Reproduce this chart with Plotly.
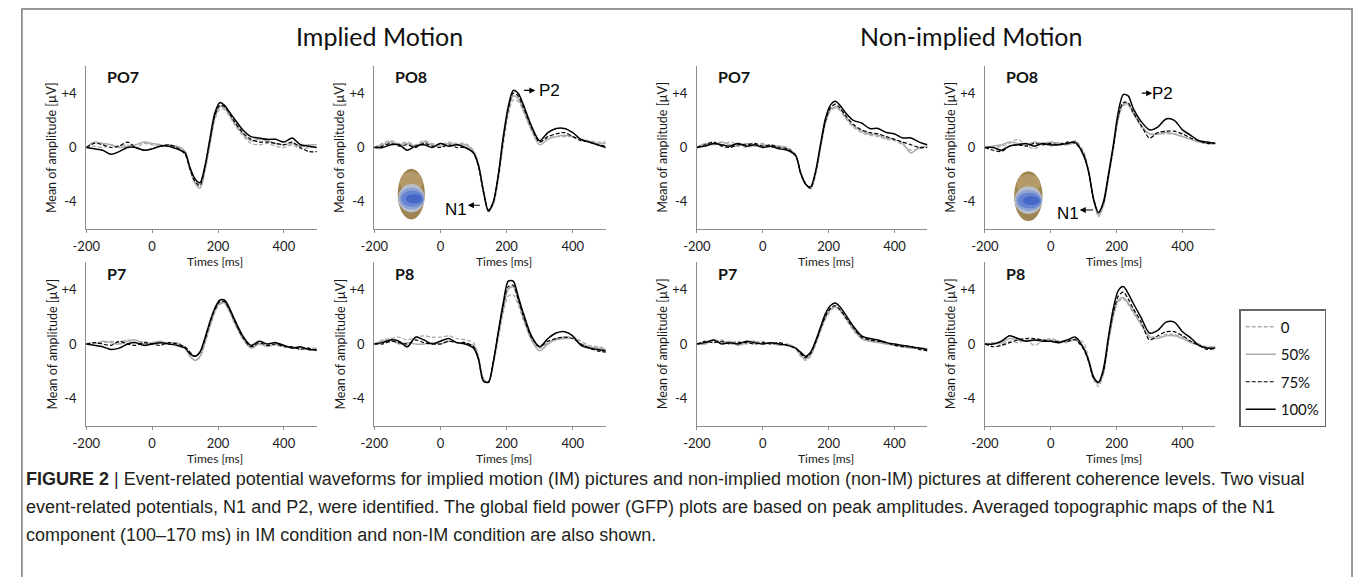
import plotly.graph_objects as go

W, H = 1354, 577

# ---------------- data ----------------
times = [-200, -175, -150, -125, -100, -75, -50, -25, 0, 25, 50, 75, 100,
         115, 130, 145, 160, 175, 190, 205, 220, 235, 250,
         275, 300, 325, 350, 375, 400, 425, 450, 475, 500]
conditions = ["0", "50%", "75%", "100%"]
x_tickvals = [-200, 0, 200, 400]
x_ticktext = ["-200", "0", "200", "400"]
y_tickvals = [4, 0, -4]
y_ticktext = ["+4", "0", "-4"]
column_titles = ["Implied Motion", "Non-implied Motion"]

# Implied motion, PO7
im_po7_0 = [0.0, 0.1, 0.0, 0.2, 0.1, 0.2, 0.0, 0.3, 0.2, 0.1, 0.2, 0.1, -0.3,
            -1.6, -2.6, -3.0, -1.8, 0.1, 2.0, 2.8, 2.8, 2.3, 1.7,
            0.9, 0.3, 0.2, 0.3, 0.1, 0.0, 0.2, -0.1, 0.0, 0.1]
im_po7_50 = [0.0, 0.4, 0.3, 0.2, 0.0, 0.1, 0.2, 0.4, 0.3, 0.2, 0.1, 0.1, -0.3,
             -1.6, -2.6, -3.0, -1.7, 0.3, 2.2, 3.0, 2.9, 2.4, 1.8,
             1.0, 0.5, 0.6, 0.5, 0.3, 0.2, 0.3, 0.1, 0.2, 0.2]
im_po7_75 = [0.0, 0.3, 0.2, 0.0, 0.1, 0.4, 0.0, -0.2, -0.1, 0.1, 0.2, 0.0, -0.5,
             -1.6, -2.5, -2.8, -1.5, 0.4, 2.3, 3.1, 3.0, 2.5, 1.9,
             1.1, 0.6, 0.4, 0.4, 0.3, 0.2, 0.4, 0.0, -0.3, -0.3]
im_po7_100 = [0.0, -0.1, -0.2, -0.5, -0.3, 0.0, 0.0, -0.2, -0.1, 0.1, 0.1, -0.1, -0.4,
              -1.5, -2.3, -2.6, -1.4, 0.6, 2.5, 3.3, 3.1, 2.6, 2.1,
              1.3, 0.8, 0.7, 0.6, 0.6, 0.4, 0.7, 0.2, 0.1, 0.0]

# Implied motion, PO8
im_po8_0 = [0.0, 0.3, 0.5, 0.3, 0.4, 0.2, 0.5, 0.3, 0.2, 0.4, 0.3, 0.3, -0.2,
            -1.2, -3.1, -4.7, -4.2, -2.4, 0.2, 2.4, 3.5, 3.4, 2.7,
            1.3, 0.4, 0.7, 0.8, 0.8, 0.8, 0.6, 0.5, 0.4, 0.4]
im_po8_50 = [0.0, 0.2, 0.4, 0.2, 0.3, 0.1, 0.4, 0.2, 0.1, 0.3, 0.2, 0.2, -0.3,
             -1.3, -3.2, -4.6, -4.1, -2.2, 0.5, 2.7, 3.8, 3.6, 2.8,
             1.3, 0.2, 0.6, 0.8, 0.9, 0.8, 0.6, 0.4, 0.3, 0.3]
im_po8_75 = [0.0, 0.1, 0.3, 0.1, 0.2, 0.0, 0.3, 0.1, 0.0, 0.2, 0.0, 0.0, -0.4,
             -1.4, -3.3, -4.6, -4.0, -2.1, 0.6, 2.8, 4.0, 3.8, 3.0,
             1.5, 0.4, 0.8, 1.0, 1.1, 0.8, 0.5, 0.4, 0.2, 0.1]
im_po8_100 = [0.0, 0.0, 0.2, 0.2, -0.2, 0.1, 0.2, 0.0, 0.3, 0.1, 0.2, 0.0, -0.4,
              -1.3, -3.2, -4.7, -4.0, -2.0, 0.8, 3.0, 4.2, 4.0, 3.2,
              1.6, 0.5, 1.1, 1.4, 1.4, 1.1, 0.6, 0.4, 0.2, 0.0]

# Non-implied motion, PO7
nim_po7_0 = [0.0, 0.1, 0.3, 0.2, 0.4, 0.2, 0.0, 0.2, 0.3, 0.0, 0.1, 0.0, -0.5,
             -1.8, -2.6, -3.1, -2.0, -0.1, 1.7, 2.7, 2.9, 2.7, 2.2,
             1.5, 1.1, 0.9, 0.8, 0.6, 0.5, 0.2, -0.2, -0.1, 0.1]
nim_po7_50 = [0.0, 0.3, 0.2, 0.4, 0.2, 0.1, 0.3, 0.1, 0.2, 0.1, 0.1, -0.1, -0.6,
              -1.8, -2.7, -3.0, -2.0, 0.0, 1.8, 2.8, 3.0, 2.8, 2.3,
              1.6, 1.2, 1.0, 0.9, 0.7, 0.6, 0.3, -0.4, 0.0, 0.1]
nim_po7_75 = [0.0, 0.2, 0.4, 0.1, 0.0, 0.2, 0.2, 0.3, 0.1, 0.2, 0.0, -0.1, -0.6,
              -1.9, -2.7, -3.0, -1.9, 0.1, 1.9, 2.9, 3.2, 2.9, 2.4,
              1.7, 1.3, 1.1, 1.0, 0.8, 0.6, 0.4, 0.2, 0.0, 0.0]
nim_po7_100 = [0.0, 0.1, 0.3, 0.2, 0.1, 0.3, 0.1, 0.2, 0.0, 0.1, -0.1, -0.2, -0.6,
               -1.9, -2.7, -2.9, -1.8, 0.2, 2.1, 3.1, 3.4, 3.1, 2.6,
               2.0, 1.8, 1.4, 1.4, 1.1, 1.0, 0.7, 0.7, 0.4, 0.2]

# Non-implied motion, PO8
nim_po8_0 = [0.0, 0.0, 0.1, 0.3, 0.6, 0.2, -0.1, 0.3, 0.1, 0.4, 0.2, 0.5, -0.3,
             -1.8, -3.8, -5.1, -4.3, -2.3, -0.1, 2.1, 3.1, 3.1, 2.5,
             1.5, 1.0, 1.0, 1.0, 1.0, 0.8, 0.6, 0.4, 0.3, 0.4]
nim_po8_50 = [0.0, 0.1, 0.2, 0.4, 0.3, 0.2, 0.4, 0.3, 0.4, 0.3, 0.2, 0.3, -0.5,
              -1.7, -3.8, -5.0, -4.2, -2.2, 0.0, 2.2, 3.2, 3.2, 2.6,
              1.6, 1.0, 1.0, 1.1, 1.0, 0.8, 0.6, 0.4, 0.3, 0.3]
nim_po8_75 = [0.0, -0.2, -0.3, 0.1, 0.2, 0.1, 0.3, 0.2, 0.3, 0.2, 0.4, 0.3, -0.5,
              -1.8, -3.8, -4.8, -4.1, -2.2, 0.0, 2.3, 3.3, 3.3, 2.6,
              1.6, 0.7, 1.1, 1.2, 1.2, 1.0, 0.7, 0.5, 0.3, 0.3]
nim_po8_100 = [0.0, 0.0, -0.2, 0.1, 0.2, 0.3, 0.1, 0.3, 0.2, 0.2, 0.3, 0.4, -0.6,
               -1.8, -3.8, -4.8, -4.0, -2.0, 0.2, 2.6, 3.9, 3.8, 2.9,
               1.9, 1.3, 1.5, 2.1, 2.0, 1.3, 0.9, 0.5, 0.4, 0.3]

# Implied motion, P7
im_p7_0 = [0.0, 0.1, 0.1, 0.2, 0.1, 0.3, 0.1, 0.2, 0.0, 0.1, 0.1, 0.0, -0.3,
           -0.8, -1.2, -1.0, 0.0, 1.2, 2.3, 2.9, 3.0, 2.4, 1.5,
           0.4, -0.2, 0.0, -0.1, -0.1, -0.2, -0.2, -0.3, -0.3, -0.3]
im_p7_50 = [0.0, 0.0, 0.2, 0.1, 0.0, 0.2, 0.3, 0.0, 0.1, 0.2, 0.0, 0.1, -0.3,
            -0.9, -1.2, -0.9, 0.1, 1.3, 2.4, 3.0, 3.0, 2.4, 1.6,
            0.4, -0.3, 0.0, -0.2, 0.0, -0.1, -0.3, -0.3, -0.4, -0.4]
im_p7_75 = [0.0, 0.1, 0.0, -0.1, 0.2, 0.0, -0.1, 0.1, 0.0, -0.1, 0.1, 0.0, -0.2,
            -0.6, -0.9, -0.6, 0.3, 1.5, 2.5, 3.1, 3.1, 2.5, 1.7,
            0.5, -0.2, 0.1, -0.1, 0.0, -0.2, -0.2, -0.4, -0.3, -0.5]
im_p7_100 = [0.0, -0.1, -0.2, -0.4, -0.3, 0.0, 0.1, -0.1, 0.0, 0.1, 0.0, -0.1, -0.3,
             -0.7, -0.9, -0.6, 0.4, 1.6, 2.6, 3.2, 3.2, 2.6, 1.8,
             0.6, -0.1, 0.2, 0.0, 0.1, -0.1, -0.3, -0.2, -0.4, -0.4]

# Implied motion, P8
im_p8_0 = [0.0, 0.3, 0.4, 0.5, 0.3, 0.5, 0.6, 0.5, 0.5, 0.6, 0.4, 0.3, 0.1,
           -0.9, -2.5, -2.8, -1.5, 0.4, 2.3, 3.5, 3.6, 2.9, 1.8,
           0.4, -0.3, 0.1, 0.4, 0.5, 0.5, 0.2, -0.1, -0.2, -0.3]
im_p8_50 = [0.0, 0.2, 0.3, 0.0, 0.1, 0.0, 0.0, 0.1, 0.0, 0.2, 0.1, 0.0, -0.1,
            -1.0, -2.6, -2.8, -1.4, 0.6, 2.6, 4.0, 4.2, 3.2, 2.0,
            0.3, -0.5, 0.0, 0.3, 0.4, 0.4, 0.0, -0.2, -0.3, -0.4]
im_p8_75 = [0.0, 0.0, 0.2, 0.1, 0.0, 0.3, 0.1, 0.0, 0.0, 0.2, 0.1, 0.1, -0.2,
            -1.1, -2.7, -2.8, -1.3, 0.8, 2.8, 4.2, 4.3, 3.3, 2.1,
            0.5, -0.2, 0.2, 0.4, 0.5, 0.4, 0.0, -0.3, -0.5, -0.6]
im_p8_100 = [0.0, 0.1, 0.3, 0.2, -0.2, 0.5, 0.3, 0.0, 0.2, 0.4, 0.1, 0.0, -0.3,
             -1.1, -2.7, -2.8, -1.3, 0.9, 3.0, 4.6, 4.6, 3.5, 2.3,
             0.6, -0.2, 0.4, 0.8, 0.9, 0.6, -0.1, -0.3, -0.4, -0.5]

# Non-implied motion, P7
nim_p7_0 = [0.0, 0.1, 0.2, 0.3, 0.1, 0.2, 0.0, 0.1, 0.2, 0.0, 0.0, -0.1, -0.4,
            -0.9, -1.2, -0.9, -0.1, 0.9, 1.8, 2.4, 2.7, 2.4, 1.9,
            1.0, 0.4, 0.2, 0.2, 0.0, 0.0, -0.2, -0.2, -0.3, -0.3]
nim_p7_50 = [0.0, 0.0, 0.3, 0.1, 0.2, -0.1, 0.1, 0.2, 0.0, 0.1, -0.1, 0.0, -0.3,
             -0.8, -1.1, -0.8, 0.0, 1.0, 1.9, 2.5, 2.7, 2.5, 2.0,
             1.1, 0.4, 0.2, 0.1, 0.0, -0.1, -0.2, -0.3, -0.3, -0.4]
nim_p7_75 = [0.0, 0.2, 0.1, 0.2, 0.0, 0.1, 0.1, 0.0, 0.1, 0.0, 0.1, -0.1, -0.3,
             -0.7, -1.0, -0.7, 0.1, 1.1, 2.0, 2.6, 2.8, 2.5, 2.0,
             1.2, 0.5, 0.3, 0.2, 0.1, -0.1, -0.2, -0.2, -0.4, -0.5]
nim_p7_100 = [0.0, 0.1, 0.3, 0.0, 0.1, 0.0, 0.2, 0.1, 0.0, 0.1, 0.0, -0.1, -0.3,
              -0.6, -0.9, -0.6, 0.2, 1.2, 2.2, 2.8, 3.0, 2.7, 2.2,
              1.3, 0.6, 0.4, 0.3, 0.1, 0.0, -0.1, -0.2, -0.3, -0.4]

# Non-implied motion, P8
nim_p8_0 = [0.0, 0.1, 0.0, 0.2, 0.1, 0.3, -0.1, 0.2, 0.4, 0.2, 0.1, 0.4, 0.1,
            -1.1, -2.6, -3.1, -2.2, 0.1, 2.0, 3.1, 3.3, 2.9, 2.3,
            1.4, 0.6, 0.5, 0.7, 0.7, 0.5, 0.2, 0.0, -0.2, -0.2]
nim_p8_50 = [0.0, 0.0, 0.1, 0.4, 0.3, 0.2, 0.3, 0.3, 0.3, 0.1, 0.2, 0.3, -0.3,
             -1.2, -2.5, -2.9, -2.1, 0.2, 2.1, 3.2, 3.4, 3.0, 2.4,
             1.4, 0.5, 0.4, 0.6, 0.6, 0.4, 0.1, -0.1, -0.3, -0.2]
nim_p8_75 = [0.0, -0.2, -0.1, 0.1, 0.3, 0.4, 0.4, 0.3, 0.2, 0.2, 0.2, 0.3, -0.4,
             -1.3, -2.5, -2.8, -2.0, 0.3, 2.3, 3.5, 3.8, 3.3, 2.6,
             1.6, 0.3, 0.6, 0.9, 0.9, 0.6, 0.2, -0.1, -0.4, -0.3]
nim_p8_100 = [0.0, 0.0, 0.2, 0.6, 0.4, 0.2, 0.3, 0.2, 0.2, 0.1, 0.3, 0.5, -0.3,
              -1.2, -2.4, -2.8, -1.8, 0.5, 2.6, 3.9, 4.2, 3.7, 3.0,
              1.9, 0.8, 1.0, 1.6, 1.6, 0.9, 0.45, -0.1, -0.3, -0.3]

caption_lines = [
    "<b>FIGURE 2</b> | Event-related potential waveforms for implied motion (IM) pictures and non-implied motion (non-IM) pictures at different coherence levels. Two visual",
    "event-related potentials, N1 and P2, were identified. The global field power (GFP) plots are based on peak amplitudes. Averaged topographic maps of the N1",
    "component (100\u2013170 ms) in IM condition and non-IM condition are also shown.",
]

# ---------------- layout helpers ----------------
def px_x(p):
    return p / W

def px_y(p):
    return 1 - p / H

cols_px = [(73, 306), (364, 598), (690, 923), (981, 1214)]
rows_px = [(66, 229), (262, 426)]

panels = [
    (0, 0, "PO7", [im_po7_0, im_po7_50, im_po7_75, im_po7_100]),
    (0, 1, "PO8", [im_po8_0, im_po8_50, im_po8_75, im_po8_100]),
    (0, 2, "PO7", [nim_po7_0, nim_po7_50, nim_po7_75, nim_po7_100]),
    (0, 3, "PO8", [nim_po8_0, nim_po8_50, nim_po8_75, nim_po8_100]),
    (1, 0, "P7", [im_p7_0, im_p7_50, im_p7_75, im_p7_100]),
    (1, 1, "P8", [im_p8_0, im_p8_50, im_p8_75, im_p8_100]),
    (1, 2, "P7", [nim_p7_0, nim_p7_50, nim_p7_75, nim_p7_100]),
    (1, 3, "P8", [nim_p8_0, nim_p8_50, nim_p8_75, nim_p8_100]),
]

styles = {
    "0": dict(color="#ababab", dash="4px,2px", width=1.3),
    "50%": dict(color="#ababab", dash="solid", width=1.5),
    "75%": dict(color="#000000", dash="4px,2px", width=1.2),
    "100%": dict(color="#000000", dash="solid", width=1.5),
}

AX = "#8c8c8c"
FONT = "Lato, Calibri, sans-serif"

fig = go.Figure()
annotations = []
shapes = []
layout_axes = {}

for r, c, ch, series in panels:
    k = r * 4 + c + 1
    xs = "" if k == 1 else str(k)
    for cond, vals in zip(conditions, series):
        fig.add_trace(go.Scatter(
            x=times, y=vals, mode="lines", name=cond,
            line=dict(shape="spline", smoothing=0.8, **styles[cond]),
            xaxis="x" + xs, yaxis="y" + xs,
            showlegend=(k == 1), legendgroup=cond,
            hoverinfo="skip",
        ))
    x0, x1 = cols_px[c]
    ytop, ybot = rows_px[r]
    layout_axes["xaxis" + xs] = dict(
        domain=[px_x(x0), px_x(x1)], range=[-200, 500], anchor="y" + xs,
        showline=True, linecolor=AX, linewidth=1, showgrid=False, zeroline=False,
        tickmode="array", tickvals=x_tickvals, ticktext=x_ticktext,
        ticks="outside", ticklen=3, tickcolor=AX,
        tickfont=dict(family=FONT, size=13, color="#1a1a1a"),
        ticklabelstandoff=2,
    )
    layout_axes["yaxis" + xs] = dict(
        domain=[px_y(ybot), px_y(ytop)], range=[-6, 6], anchor="x" + xs,
        showline=True, linecolor=AX, linewidth=1, showgrid=False, zeroline=False,
        tickmode="array", tickvals=y_tickvals, ticktext=y_ticktext,
        ticks="", tickfont=dict(family=FONT, size=13, color="#1a1a1a"),
        ticklabelstandoff=6,
    )
    # channel label
    annotations.append(dict(
        text="<b>%s</b>" % ch, xref="paper", yref="paper",
        x=px_x(x0 + 19), y=px_y(ytop + 11), xanchor="left", yanchor="middle",
        showarrow=False, font=dict(family=FONT, size=16, color="#111")))
    # y title
    annotations.append(dict(
        text="Mean of amplitude [\u00b5V]", xref="paper", yref="paper",
        x=px_x(x0 - 35), y=px_y((ytop + ybot) / 2), xanchor="center", yanchor="middle",
        textangle=-90, showarrow=False, font=dict(family=FONT, size=12.5, color="#1a1a1a")))
    # x title
    annotations.append(dict(
        text="Times [ms]", xref="paper", yref="paper",
        x=px_x((x0 + x1) / 2 + 14), y=px_y(ybot + 32), xanchor="center", yanchor="middle",
        showarrow=False, font=dict(family=FONT, size=12, color="#1a1a1a")))

# column titles
for title, cx in zip(column_titles, [369, 967]):
    annotations.append(dict(
        text=title, xref="paper", yref="paper", x=px_x(cx), y=px_y(36),
        xanchor="center", yanchor="middle", showarrow=False,
        font=dict(family=FONT, size=25, color="#111")))

# N1 / P2 labels with arrows (panels PO8)
ARIAL = "Liberation Sans, Arial, sans-serif"
peak_marks = [
    ("2", (331, 4.2), (248, 4.2), (287, 4.2), (46, -4.6), (124, -4.25), (83, -4.25)),
    ("4", (338, 4.0), (272, 4.0), (308, 4.0), (51, -4.85), (133, -4.6), (88, -4.6)),
]
for s, p2t, p2a, p2h, n1t, n1a, n1h in peak_marks:
    annotations.append(dict(text="P2", x=p2t[0], y=p2t[1], xref="x" + s, yref="y" + s,
                            showarrow=False, font=dict(family=ARIAL, size=17, color="#000")))
    annotations.append(dict(text="", x=p2h[0], y=p2h[1], ax=p2a[0], ay=p2a[1],
                            xref="x" + s, yref="y" + s, axref="x" + s, ayref="y" + s,
                            showarrow=True, arrowhead=2, arrowsize=1, arrowwidth=1.2,
                            arrowcolor="#000"))
    annotations.append(dict(text="N1", x=n1t[0], y=n1t[1], xref="x" + s, yref="y" + s,
                            showarrow=False, font=dict(family=ARIAL, size=17, color="#000")))
    annotations.append(dict(text="", x=n1h[0], y=n1h[1], ax=n1a[0], ay=n1a[1],
                            xref="x" + s, yref="y" + s, axref="x" + s, ayref="y" + s,
                            showarrow=True, arrowhead=2, arrowsize=1, arrowwidth=1.2,
                            arrowcolor="#000"))

# topographic head maps (decorative), layered ellipses in head-box fractions
heads = [("2", (-129, -47, -1.57, -5.3)), ("4", (-111, -25, -1.74, -5.42))]
head_layers = [
    (0.00, 1.00, 0.00, 1.00, "#9e8450"),
    (0.08, 0.92, 0.06, 0.45, "#b39a68"),
    (0.02, 0.99, 0.30, 0.86, "#b9bfca"),
    (0.05, 0.97, 0.37, 0.80, "#8fa3d2"),
    (0.12, 0.95, 0.43, 0.75, "#6684d2"),
    (0.30, 0.90, 0.50, 0.68, "#4667c8"),
]
for s, (hx0, hx1, hy0, hy1) in heads:
    for fx0, fx1, fy0, fy1, col in head_layers:
        shapes.append(dict(type="circle", xref="x" + s, yref="y" + s,
                           x0=hx0 + (hx1 - hx0) * fx0, x1=hx0 + (hx1 - hx0) * fx1,
                           y0=hy0 + (hy1 - hy0) * fy0, y1=hy0 + (hy1 - hy0) * fy1,
                           fillcolor=col, line=dict(width=0), layer="above"))

# outer frame
shapes.append(dict(type="rect", xref="paper", yref="paper",
                   x0=px_x(8), x1=px_x(1352), y0=px_y(620), y1=px_y(9),
                   line=dict(color="#7a7a7a", width=1.5), fillcolor="rgba(0,0,0,0)"))

# caption
CAP = "Liberation Sans Narrow, Liberation Sans, Arial, sans-serif"
for i, line in enumerate(caption_lines):
    annotations.append(dict(
        text=line, xref="paper", yref="paper", x=px_x(10), y=px_y(479 + 28 * i),
        xanchor="left", yanchor="middle", showarrow=False,
        font=dict(family=CAP, size=18, color="#231f20")))

fig.update_layout(
    width=W, height=H, margin=dict(l=0, r=0, t=0, b=0),
    paper_bgcolor="white", plot_bgcolor="white",
    annotations=annotations, shapes=shapes,
    legend=dict(x=px_x(1238), y=px_y(309), xanchor="left", yanchor="top",
                bordercolor="#666666", borderwidth=1.5, bgcolor="white",
                font=dict(family=FONT, size=15, color="#111"),
                tracegroupgap=5, itemwidth=30, traceorder="grouped"),
    **layout_axes,
)

fig.write_html("out.html")
